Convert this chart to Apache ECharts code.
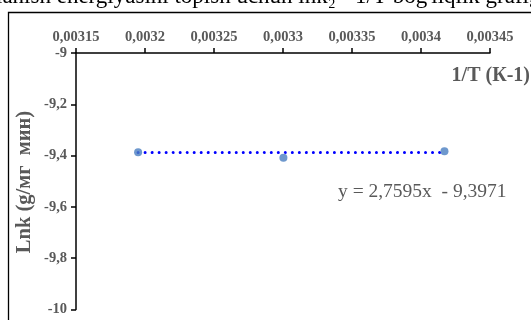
<!DOCTYPE html>
<html><head><meta charset="utf-8">
<script src="https://cdn.jsdelivr.net/npm/echarts@6/dist/echarts.min.js"></script>
<style>html,body{margin:0;padding:0;background:#fff}#c{width:531px;height:320px}</style>
</head><body><div id="c"></div>
<script>
const xValues = [0.003195, 0.0033003, 0.003417];
const yValues = [-9.387, -9.408, -9.383];
const trendSlope = 2.7595;
const trendIntercept = -9.3971;
const equationText = 'y = 2,7595x  - 9,3971';
const xAxisTitle = '1/T (К-1)';
const yAxisTitle = 'Lnk (g/мг  мин)';
const titleText = "Faollanish energiyasini topish uchun lnk\u2082 - 1/T bog'liqlik grafigi";

const trendData = [xValues[0], xValues[xValues.length-1]].map(x => [x, trendSlope * x + trendIntercept]);
const serif = '"Liberation Serif", "Times New Roman", serif';
const gray = '#595959';
const fmtComma = d => v => String(Number(v.toFixed(d))).replace('.', ',');

const chart = echarts.init(document.getElementById('c'));
chart.setOption({
  animation: false,
  grid: {left: 76, right: 41, top: 53, bottom: 10.5},
  xAxis: {
    type: 'value', position: 'top', min: 0.00315, max: 0.00345, interval: 0.00005,
    splitLine: {show: false},
    axisLine: {lineStyle: {color: '#000', width: 1.5}},
    axisTick: {show: true, inside: false, length: 5, lineStyle: {color: '#000', width: 1.5}},
    axisLabel: {formatter: fmtComma(5), color: gray, fontFamily: serif, fontWeight: 'bold', fontSize: 14.5, margin: 8}
  },
  yAxis: {
    type: 'value', min: -10, max: -9, interval: 0.2,
    splitLine: {show: false},
    axisLine: {show: true, lineStyle: {color: '#000', width: 1.5}},
    axisTick: {show: true, inside: false, length: 5, lineStyle: {color: '#000', width: 1.5}},
    axisLabel: {formatter: fmtComma(1), color: gray, fontFamily: serif, fontWeight: 'bold', fontSize: 14.5, margin: 9}
  },
  series: [
    {type: 'line', data: trendData, symbol: 'none', z: 2,
     lineStyle: {color: '#0000ff', width: 3, type: [0.01, 7], cap: 'round'}},
    {type: 'scatter', data: xValues.map((x, i) => [x, yValues[i]]), symbolSize: 8, z: 3,
     itemStyle: {color: '#4a7ec0'}}
  ],
  graphic: [
    {type: 'rect', shape: {x: 8.5, y: 12.5, width: 600, height: 400}, style: {fill: 'none', stroke: '#000', lineWidth: 1.3}, silent: true},
    {type: 'text', x: 251, y: 8, style: {text: titleText, font: '23px ' + serif, fill: '#000', align: 'center', verticalAlign: 'bottom'}},
    {type: 'text', x: 530, y: 76, style: {text: xAxisTitle, font: 'bold 20px ' + serif, fill: gray, align: 'right', verticalAlign: 'middle'}},
    {type: 'text', x: 25, y: 182, rotation: Math.PI / 2, style: {text: yAxisTitle, font: 'bold 20.5px ' + serif, fill: gray, align: 'center', verticalAlign: 'middle'}},
    {type: 'text', x: 338, y: 192, style: {text: equationText, font: '19.5px ' + serif, fill: gray, align: 'left', verticalAlign: 'middle'}}
  ]
});
</script></body></html>
